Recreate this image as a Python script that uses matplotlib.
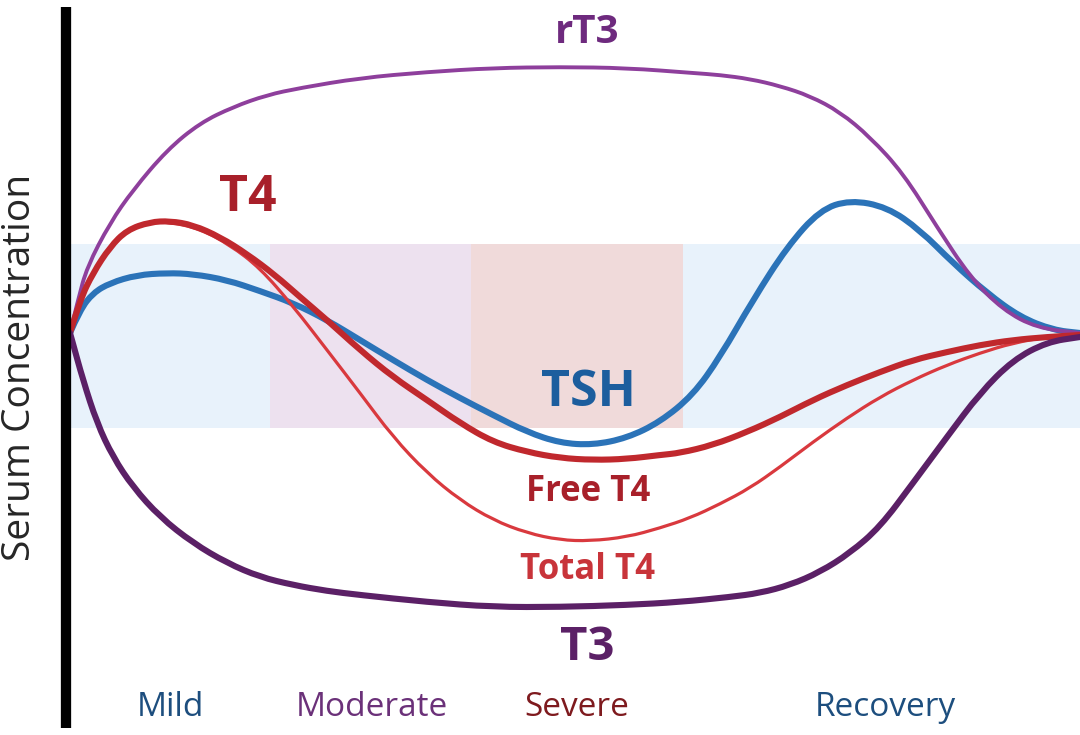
import matplotlib
matplotlib.use("Agg")
import matplotlib.pyplot as plt
from matplotlib.path import Path
from matplotlib.patches import PathPatch

plt.rcParams['font.family'] = ['Open Sans', 'DejaVu Sans']

# curves, in pixel units (x right, y down)
rt3_x = [70, 78, 87, 110, 133, 167, 200, 233, 267, 300, 360, 427, 493, 560, 627, 693, 720, 750, 780, 810, 840, 870, 903, 937, 970, 1003, 1037, 1080]
rt3_y = [333, 300, 267, 223, 190, 150, 123, 107, 95, 88, 78, 72, 68, 67, 68, 73, 75, 79, 86, 96, 112, 137, 173, 227, 277, 310, 328, 333]

tsh_x = [70, 80, 93, 110, 137, 167, 193, 227, 260, 293, 327, 360, 393, 427, 460, 493, 527, 560, 593, 627, 660, 693, 720, 753, 787, 820, 850, 887, 920, 953, 987, 1020, 1053, 1080]
tsh_y = [333, 310, 293, 283, 275, 273, 274, 280, 291, 303, 320, 340, 360, 380, 398, 415, 432, 443, 445, 438, 422, 395, 357, 300, 247, 210, 200, 207, 230, 263, 293, 317, 330, 333]

ft4_x = [70, 80, 93, 110, 127, 150, 170, 193, 220, 247, 275, 300, 327, 360, 393, 427, 460, 493, 527, 560, 593, 627, 660, 680, 713, 747, 780, 813, 847, 880, 913, 947, 980, 1013, 1047, 1080]
ft4_y = [333, 300, 273, 247, 230, 222, 221, 225, 237, 254, 275, 297, 320, 350, 377, 400, 423, 442, 452, 458, 460, 459, 455, 453, 445, 432, 417, 400, 385, 372, 360, 352, 345, 340, 337, 335]

tt4_x = [70, 80, 93, 110, 127, 150, 170, 200, 230, 260, 293, 327, 360, 393, 427, 460, 493, 527, 560, 590, 627, 660, 690, 720, 750, 780, 813, 847, 880, 913, 947, 980, 1013, 1047, 1080]
tt4_y = [333, 300, 273, 247, 230, 222, 222, 229, 245, 268, 306, 350, 393, 437, 473, 500, 520, 533, 540, 541, 537, 528, 518, 504, 488, 467, 442, 418, 397, 380, 365, 353, 343, 337, 335]

t3_x = [70, 72, 83, 97, 113, 133, 160, 193, 227, 260, 293, 327, 360, 427, 493, 560, 627, 680, 730, 760, 790, 820, 850, 880, 913, 947, 980, 1013, 1047, 1080]
t3_y = [333, 340, 380, 423, 457, 487, 517, 543, 563, 577, 585, 591, 595, 602, 607, 607, 605, 602, 597, 593, 585, 572, 553, 527, 483, 437, 393, 360, 342, 337]

# phase bands (x start, x end)
phases = ['Mild', 'Moderate', 'Severe', 'Recovery']
band_x0 = [71, 270, 471, 683]
band_x1 = [270, 471, 683, 1080]
band_cols = ['#e8f2fb', '#ede1ef', '#f0dada', '#e8f2fb']
label_x = [170, 372, 577, 885]
label_cols = ['#1d4e7e', '#6b3179', '#7e1a1e', '#1d4e7e']
normal_lo, normal_hi = 244, 428


def smooth(ax, xs, ys, color, lw, z):
    # quadratic beziers through midpoints, so the line has no corners
    pts = list(zip(xs, ys))
    verts = [pts[0]]
    codes = [Path.MOVETO]
    for i in range(1, len(pts) - 1):
        mx = (pts[i][0] + pts[i + 1][0]) / 2
        my = (pts[i][1] + pts[i + 1][1]) / 2
        verts += [pts[i], (mx, my)]
        codes += [Path.CURVE3, Path.CURVE3]
    verts.append(pts[-1])
    codes.append(Path.LINETO)
    ax.add_patch(PathPatch(Path(verts, codes), fill=False, edgecolor=color,
                           lw=lw, capstyle='round', joinstyle='round', zorder=z))


fig = plt.figure(figsize=(10.8, 7.35), dpi=100)
ax = fig.add_axes([0, 0, 1, 1])
ax.set_xlim(0, 1080)
ax.set_ylim(735, 0)
ax.axis('off')

for x0, x1, c in zip(band_x0, band_x1, band_cols):
    ax.fill_between([x0, x1], normal_lo, normal_hi, color=c, lw=0, zorder=1)

smooth(ax, tsh_x, tsh_y, '#2b73b8', 4.4, 3)
smooth(ax, rt3_x, rt3_y, '#8e3f9c', 2.8, 4)
smooth(ax, tt4_x, tt4_y, '#d9393e', 2.3, 5)
smooth(ax, ft4_x, ft4_y, '#c0282d', 4.4, 6)
smooth(ax, t3_x, t3_y, '#5b2066', 4.4, 7)

ax.plot([66, 66], [7, 728], color='black', lw=7.4, solid_capstyle='butt', zorder=10)

ax.text(587, 32, 'rT3', color='#6e2a7e', fontsize=29, fontweight='bold', ha='center', va='center')
ax.text(248, 198, 'T4', color='#a8202a', fontsize=36, fontweight='bold', ha='center', va='center')
ax.text(588, 393, 'TSH', color='#1c5e9e', fontsize=36, fontweight='bold', ha='center', va='center')
ax.text(588, 492, 'Free T4', color='#a8202a', fontsize=25, fontweight='bold', ha='center', va='center')
ax.text(588, 570, 'Total T4', color='#c8343a', fontsize=25, fontweight='bold', ha='center', va='center')
ax.text(587, 647, 'T3', color='#5b2066', fontsize=34, fontweight='bold', ha='center', va='center')

for name, lx, c in zip(phases, label_x, label_cols):
    ax.text(lx, 708, name, color=c, fontsize=24, ha='center', va='center')

ax.text(20, 367, 'Serum Concentration', color='#262626', fontsize=28,
        rotation=90, ha='center', va='center')

fig.savefig('out.png', dpi=100)
